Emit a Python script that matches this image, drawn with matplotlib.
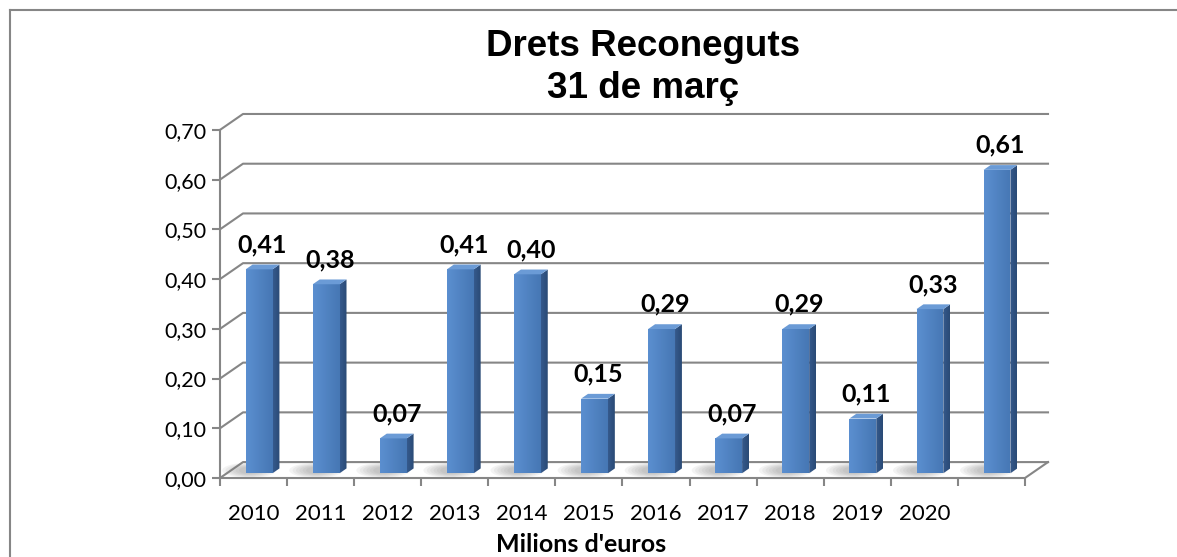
"""Pseudo-3D column chart of 'Drets Reconeguts' at 31 March."""

import matplotlib
matplotlib.use("Agg")
from matplotlib import pyplot as plt
from matplotlib.patches import Polygon, Ellipse
from matplotlib.lines import Line2D
import numpy as np

YEARS = ["2010", "2011", "2012", "2013", "2014", "2015", "2016", "2017",
         "2018", "2019", "2020", ""]
VALUES = [0.41, 0.38, 0.07, 0.41, 0.40, 0.15, 0.29, 0.07, 0.29, 0.11, 0.33,
          0.61]
Y_TICKS = [0.0, 0.1, 0.2, 0.3, 0.4, 0.5, 0.6, 0.7]

TITLE_LINES = ["Drets Reconeguts", "31 de març"]
X_LABEL = "Milions d'euros"

# Depth of the box (in data units) and how far into it the bars sit.
DEPTH_X = 0.343
DEPTH_Y = 0.032
BAR_FRONT = 0.3
BAR_DEPTH = 0.3
BAR_WIDTH = 0.4

GRID = "#868686"
TOP = "#6B9BD6"

LABEL_FONT = ["Lato", "DejaVu Sans"]


def comma(v):
    return ("%.2f" % v).replace(".", ",")


def gradient_poly(ax, verts, c0, c1, zorder):
    """Fill a polygon with a left-to-right gradient between two colours."""
    poly = Polygon(verts, closed=True, facecolor="none", edgecolor="none",
                   zorder=zorder)
    ax.add_patch(poly)
    xs = [p[0] for p in verts]
    ys = [p[1] for p in verts]
    c0 = np.array(matplotlib.colors.to_rgb(c0))
    c1 = np.array(matplotlib.colors.to_rgb(c1))
    t = np.linspace(0, 1, 64)
    img = (c0[None, :] * (1 - t[:, None]) + c1[None, :] * t[:, None])[None]
    im = ax.imshow(img, extent=(min(xs), max(xs), min(ys), max(ys)),
                   aspect="auto", origin="lower", zorder=zorder,
                   interpolation="bilinear")
    im.set_clip_path(poly)


def draw_box(ax, n):
    """Back wall gridlines, left wall slants and the floor."""
    x0, x1 = -0.5, n - 0.5
    for y in Y_TICKS:
        ax.plot([x0, x0 + DEPTH_X, x1 + DEPTH_X],
                [y, y + DEPTH_Y, y + DEPTH_Y],
                color=GRID, lw=1.5, clip_on=False, zorder=2)
    # front axis and floor front edge
    ax.plot([x0, x0], [0, Y_TICKS[-1]], color=GRID, lw=1.5, clip_on=False,
            zorder=2)
    ax.plot([x0, x1, x1 + DEPTH_X], [0, 0, DEPTH_Y], color=GRID, lw=1.5,
            clip_on=False, zorder=6)


def draw_bars(ax):
    ddx = DEPTH_X * BAR_DEPTH
    ddy = DEPTH_Y * BAR_DEPTH
    base = DEPTH_Y * BAR_FRONT
    for i, v in enumerate(VALUES):
        left = i - BAR_WIDTH / 2 + DEPTH_X * BAR_FRONT - 0.02
        right = left + BAR_WIDTH
        top = base + v
        # soft shadow on the floor, to the left of the bar
        for k in range(6):
            ax.add_patch(Ellipse((left + 0.05, base + ddy * 0.6),
                                 0.8 - k * 0.1, DEPTH_Y * (0.95 - k * 0.1),
                                 facecolor="#7f7f7f", edgecolor="none",
                                 alpha=0.09, zorder=3))
        gradient_poly(ax, [(left, base), (right, base), (right, top),
                           (left, top)], "#5B8FD0", "#4677B4", 4)
        gradient_poly(ax, [(right, base), (right + ddx, base + ddy),
                           (right + ddx, top + ddy), (right, top)],
                      "#355A8D", "#2A4A75", 4)
        ax.add_patch(Polygon([(left, top), (right, top),
                              (right + ddx, top + ddy),
                              (left + ddx, top + ddy)], closed=True,
                             facecolor=TOP, edgecolor="none", zorder=5))
        ax.annotate(comma(v), (left + (BAR_WIDTH + ddx) / 2, top + ddy),
                    xytext=(0, 6), textcoords="offset points",
                    ha="center", va="bottom", fontsize=18,
                    fontweight="bold", family=LABEL_FONT, zorder=7)


def main():
    fig = plt.figure(figsize=(11.77, 5.57), dpi=100)
    ax = fig.add_axes([220 / 1177, 79 / 557, 828 / 1177, 368 / 557])
    n = len(VALUES)
    ax.set_xlim(-0.5, n - 0.5 + DEPTH_X)
    ax.set_ylim(0, 0.74)
    for spine in ax.spines.values():
        spine.set_visible(False)

    draw_box(ax, n)
    draw_bars(ax)

    ax.set_yticks(Y_TICKS)
    ax.set_yticklabels([comma(y) for y in Y_TICKS], family=LABEL_FONT,
                       fontsize=15.5)
    ax.tick_params(axis="y", length=6, width=1.5, color=GRID, pad=4)
    ax.set_xticks(range(n))
    ax.set_xticklabels(YEARS, family=LABEL_FONT, fontsize=16)
    ax.set_xticks([i - 0.5 for i in range(n + 1)], minor=True)
    ax.tick_params(axis="x", which="major", length=0, pad=19)
    ax.tick_params(axis="x", which="minor", length=6, width=1.5, color=GRID)

    fig.text(581 / 1177, 1 - 545 / 557, X_LABEL, ha="center", va="center",
             fontsize=18, fontweight="bold", family=LABEL_FONT)
    for line, ypix in zip(TITLE_LINES, (46, 88)):
        fig.text(643 / 1177, 1 - ypix / 557, line, ha="center",
                 va="center", fontsize=26.5, fontweight="bold",
                 family=["Liberation Sans", "DejaVu Sans"])

    # chart frame, cut by the image edges on the right and bottom
    fig.add_artist(Line2D([9.5 / 1177, 9.5 / 1177], [0, 1 - 9.5 / 557],
                          color=GRID, lw=1.5, transform=fig.transFigure))
    fig.add_artist(Line2D([9.5 / 1177, 1], [1 - 9.5 / 557, 1 - 9.5 / 557],
                          color=GRID, lw=1.5, transform=fig.transFigure))

    fig.savefig("out.png", dpi=100)


if __name__ == "__main__":
    main()
